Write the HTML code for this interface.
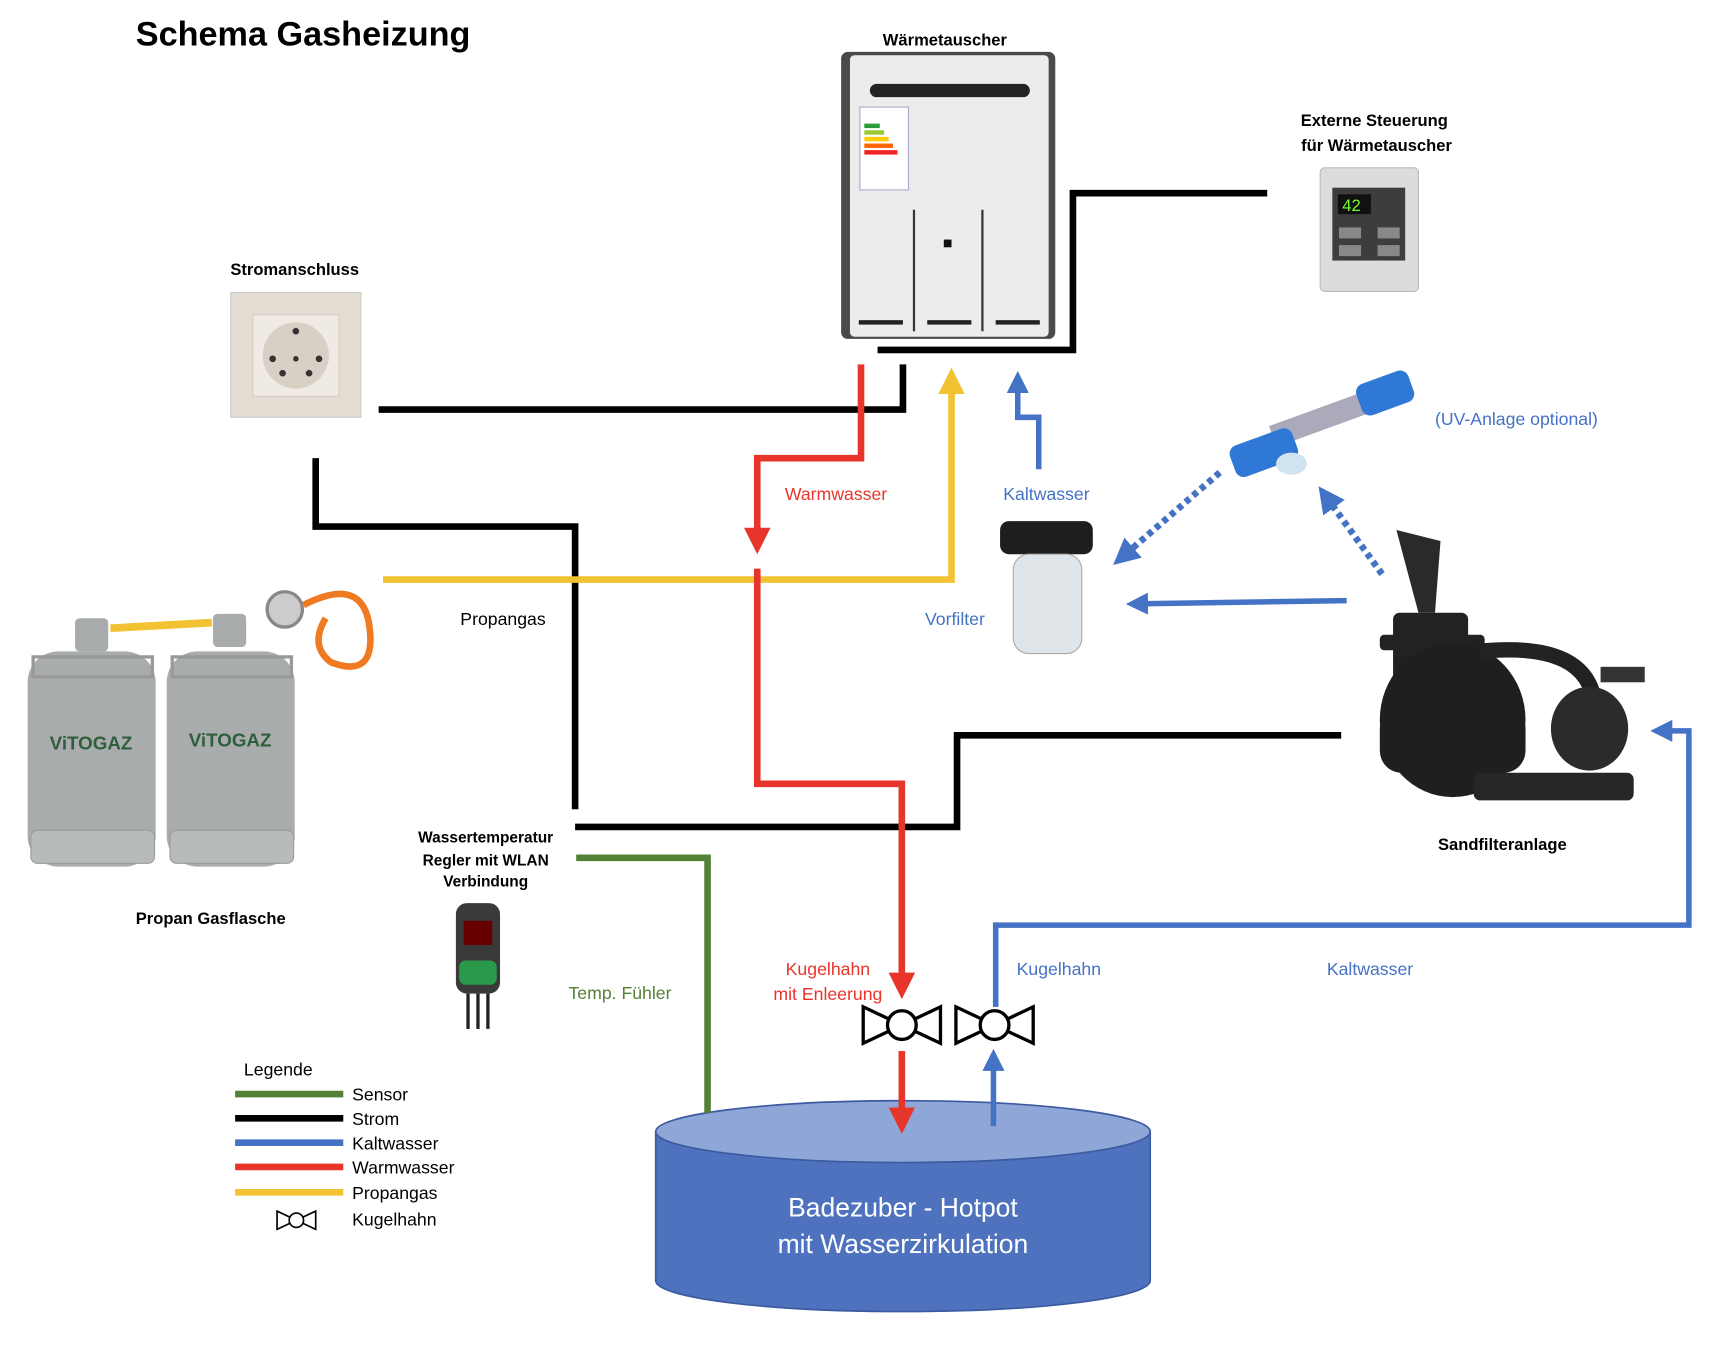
<!DOCTYPE html>
<html><head><meta charset="utf-8"><style>
html,body{margin:0;padding:0;background:#fff;}
svg{display:block;}
text{font-family:"Liberation Sans",sans-serif;}
</style></head><body>
<svg width="1722" height="1348" viewBox="0 0 1560 1221" preserveAspectRatio="none" xmlns="http://www.w3.org/2000/svg">
<defs>
<marker id="ar" markerWidth="4" markerHeight="4" refX="2" refY="2" orient="auto" markerUnits="strokeWidth"><path d="M0,0 L4,2 L0,4z" fill="#e8352b"/></marker>
<marker id="ay" markerWidth="4" markerHeight="4" refX="2" refY="2" orient="auto" markerUnits="strokeWidth"><path d="M0,0 L4,2 L0,4z" fill="#f2c232"/></marker>
<marker id="ab" markerWidth="4" markerHeight="4" refX="2" refY="2" orient="auto" markerUnits="strokeWidth"><path d="M0,0 L4,2 L0,4z" fill="#4472c4"/></marker>
<marker id="ab2" markerWidth="4" markerHeight="4" refX="1" refY="2" orient="auto" markerUnits="strokeWidth"><path d="M0,0 L4,2 L0,4z" fill="#4472c4"/></marker>
<g id="valve"><path d="M0,0 L0,33 L35,16.5z M70,0 L70,33 L35,16.5z" fill="#fff" stroke="#000" stroke-width="3"/><circle cx="35" cy="16.5" r="13" fill="#fff" stroke="#000" stroke-width="3"/></g>
</defs>

<text x="123" y="41" font-size="31" font-weight="bold">Schema Gasheizung</text>

<!-- heater -->
<text x="856" y="41" font-size="15" font-weight="bold" text-anchor="middle">Wärmetauscher</text>
<rect x="762" y="47" width="194" height="260" rx="6" fill="#4a4a4a"/>
<rect x="770" y="50" width="180" height="255" rx="4" fill="#ececec"/>
<rect x="788" y="76" width="145" height="12" rx="6" fill="#222"/>
<rect x="779" y="97" width="44" height="75" fill="#fff" stroke="#aac"/>
<rect x="783" y="112" width="14" height="4" fill="#2a9a3a"/><rect x="783" y="118" width="18" height="4" fill="#9c3"/><rect x="783" y="124" width="22" height="4" fill="#fc0"/><rect x="783" y="130" width="26" height="4" fill="#f60"/><rect x="783" y="136" width="30" height="4" fill="#e22"/>
<rect x="855" y="217" width="7" height="7" fill="#111"/>
<rect x="778" y="290" width="40" height="4" fill="#222"/><rect x="840" y="290" width="40" height="4" fill="#222"/><rect x="902" y="290" width="40" height="4" fill="#222"/>
<line x1="828" y1="190" x2="828" y2="300" stroke="#333" stroke-width="2"/><line x1="890" y1="190" x2="890" y2="300" stroke="#333" stroke-width="2"/>

<!-- external control -->
<text x="1245" y="114" font-size="15" font-weight="bold" text-anchor="middle">Externe Steuerung</text>
<text x="1247" y="137" font-size="15" font-weight="bold" text-anchor="middle">für Wärmetauscher</text>
<rect x="1196" y="152" width="89" height="112" rx="4" fill="#dcdcdc" stroke="#bbb"/>
<rect x="1207" y="170" width="66" height="66" fill="#3d3d3d"/>
<rect x="1212" y="176" width="30" height="18" fill="#111"/>
<text x="1216" y="191" font-size="15" fill="#7f3" font-family="Liberation Mono">42</text>
<rect x="1213" y="206" width="20" height="10" fill="#888"/><rect x="1213" y="222" width="20" height="10" fill="#888"/><rect x="1248" y="206" width="20" height="10" fill="#888"/><rect x="1248" y="222" width="20" height="10" fill="#888"/>

<!-- socket -->
<text x="267" y="249" font-size="15" font-weight="bold" text-anchor="middle">Stromanschluss</text>
<rect x="209" y="265" width="118" height="113" fill="#e2dcd2" stroke="#ccc"/>
<rect x="229" y="285" width="78" height="74" fill="#efebe4" stroke="#d4cec4"/>
<circle cx="268" cy="322" r="30" fill="#d8d0c4"/>
<circle cx="268" cy="300" r="3" fill="#333"/><circle cx="247" cy="325" r="3" fill="#333"/><circle cx="289" cy="325" r="3" fill="#333"/><circle cx="268" cy="325" r="2.5" fill="#333"/><circle cx="256" cy="338" r="3" fill="#333"/><circle cx="280" cy="338" r="3" fill="#333"/>

<!-- tank -->
<path d="M594,1025 L594,1160 A224,28 0 0 0 1042,1160 L1042,1025z" fill="#4f72be" stroke="#3b5aa0" stroke-width="1.5"/>
<ellipse cx="818" cy="1025" rx="224" ry="28" fill="#8fa6d8" stroke="#3b5aa0" stroke-width="1.5"/>
<text x="818" y="1102" font-size="24" fill="#fff" text-anchor="middle">Badezuber - Hotpot</text>
<text x="818" y="1135" font-size="24" fill="#fff" text-anchor="middle">mit Wasserzirkulation</text>

<!-- black lines -->
<g fill="none" stroke="#000" stroke-width="6">
<polyline points="343,371 818,371 818,330"/>
<polyline points="795,317 972,317 972,175 1148,175"/>
<polyline points="286,415 286,477 521,477 521,733"/>
<polyline points="521,749 867,749 867,666 1215,666"/>
</g>

<!-- yellow -->
<polyline points="347,525 862,525 862,345" fill="none" stroke="#f2c232" stroke-width="6" marker-end="url(#ay)"/>
<line x1="100" y1="569" x2="192" y2="564" stroke="#f2c232" stroke-width="7"/>

<!-- red -->
<g fill="none" stroke="#e8352b" stroke-width="6">
<polyline points="780,330 780,415 686,415 686,490" marker-end="url(#ar)"/>
<polyline points="686,515 686,710 817,710 817,893" marker-end="url(#ar)"/>
<polyline points="817,952 817,1015" marker-end="url(#ar)"/>
</g>

<!-- blue -->
<g fill="none" stroke="#4472c4" stroke-width="5">
<polyline points="941,425 941,378 922,378 922,346" marker-end="url(#ab)"/>
<polyline points="1220,544 1030,547" marker-end="url(#ab)"/>
<polyline points="900,1020 900,960" marker-end="url(#ab)"/>
<polyline points="902,912 902,838 1530,838 1530,662 1505,662" marker-end="url(#ab)"/>
<polyline points="1105,428 1022,500" stroke-dasharray="5,4" stroke-width="6" marker-end="url(#ab2)"/>
<polyline points="1252,520 1205,455" stroke-dasharray="5,4" stroke-width="6" marker-end="url(#ab2)"/>
</g>

<!-- green -->
<polyline points="522,777 641,777 641,1008" fill="none" stroke="#538135" stroke-width="6"/>

<!-- UV -->
<rect x="1150" y="370" width="100" height="20" fill="#aab" transform="rotate(-20 1195 379)"/>
<rect x="1115" y="395" width="60" height="30" rx="8" fill="#2f78d6" transform="rotate(-20 1145 410)"/>
<rect x="1230" y="342" width="50" height="30" rx="8" fill="#2f78d6" transform="rotate(-20 1252 357)"/>
<ellipse cx="1170" cy="420" rx="14" ry="10" fill="#cfe3f0"/>
<text x="1300" y="385" font-size="16" fill="#4472c4">(UV-Anlage optional)</text>

<!-- Vorfilter -->
<text x="948" y="453" font-size="16" fill="#4472c4" text-anchor="middle">Kaltwasser</text>
<rect x="906" y="472" width="84" height="30" rx="8" fill="#1e1e1e"/>
<rect x="918" y="502" width="62" height="90" rx="14" fill="#dfe5e8" stroke="#aaa"/>
<text x="838" y="566" font-size="16" fill="#4472c4">Vorfilter</text>

<!-- Sandfilter -->
<rect x="1262" y="555" width="68" height="65" rx="6" fill="#222"/>
<rect x="1250" y="575" width="95" height="14" rx="4" fill="#222"/>
<path d="M1285,555 L1265,480 L1305,490 L1300,555z" fill="#2a2a2a"/>
<ellipse cx="1316" cy="652" rx="66" ry="70" fill="#1f1f1f"/>
<rect x="1250" y="640" width="132" height="60" rx="20" fill="#1f1f1f"/>
<path d="M1340,590 Q1440,580 1445,640" fill="none" stroke="#222" stroke-width="14"/>
<ellipse cx="1440" cy="660" rx="35" ry="38" fill="#2b2b2b"/>
<rect x="1335" y="700" width="145" height="25" rx="6" fill="#262626"/>
<rect x="1450" y="604" width="40" height="14" fill="#333"/>
<text x="1361" y="770" font-size="15" font-weight="bold" text-anchor="middle">Sandfilteranlage</text>

<!-- Gas bottles -->
<g fill="#a9acad">
<rect x="68" y="560" width="30" height="30" rx="4"/><rect x="193" y="556" width="30" height="30" rx="4"/>
<rect x="25" y="590" width="116" height="195" rx="28"/>
<rect x="151" y="590" width="116" height="195" rx="28"/>
</g>
<rect x="30" y="595" width="108" height="18" fill="none" stroke="#999" stroke-width="3"/>
<rect x="156" y="595" width="108" height="18" fill="none" stroke="#999" stroke-width="3"/>
<rect x="28" y="752" width="112" height="30" rx="6" fill="#b8bbbc" stroke="#999"/>
<rect x="154" y="752" width="112" height="30" rx="6" fill="#b8bbbc" stroke="#999"/>
<text x="45" y="679" font-size="17" font-weight="bold" fill="#2e5e3a">ViTOGAZ</text>
<text x="171" y="676" font-size="17" font-weight="bold" fill="#2e5e3a">ViTOGAZ</text>
<circle cx="258" cy="552" r="16" fill="#ccc" stroke="#888" stroke-width="3"/>
<path d="M275,548 Q330,520 335,570 Q340,615 300,600 Q280,585 295,560" fill="none" stroke="#ef7a22" stroke-width="6"/>
<text x="123" y="837" font-size="15" font-weight="bold">Propan Gasflasche</text>
<text x="417" y="566" font-size="16">Propangas</text>

<!-- temp controller -->
<text x="440" y="763" font-size="14" font-weight="bold" text-anchor="middle">Wassertemperatur</text>
<text x="440" y="784" font-size="14" font-weight="bold" text-anchor="middle">Regler mit WLAN</text>
<text x="440" y="803" font-size="14" font-weight="bold" text-anchor="middle">Verbindung</text>
<rect x="413" y="818" width="40" height="82" rx="10" fill="#3a3a3a"/>
<rect x="420" y="834" width="26" height="22" fill="#600"/>
<rect x="416" y="870" width="34" height="22" rx="6" fill="#2a9a4a"/>
<line x1="424" y1="900" x2="424" y2="932" stroke="#222" stroke-width="3"/><line x1="433" y1="900" x2="433" y2="932" stroke="#222" stroke-width="3"/><line x1="442" y1="900" x2="442" y2="932" stroke="#222" stroke-width="3"/>
<text x="515" y="905" font-size="16" fill="#538135">Temp. Fühler</text>

<!-- Labels -->
<text x="711" y="453" font-size="16" fill="#e8352b">Warmwasser</text>
<text x="750" y="883" font-size="16" fill="#e8352b" text-anchor="middle">Kugelhahn</text>
<text x="750" y="906" font-size="16" fill="#e8352b" text-anchor="middle">mit Enleerung</text>
<text x="921" y="883" font-size="16" fill="#4472c4">Kugelhahn</text>
<text x="1202" y="883" font-size="16" fill="#4472c4">Kaltwasser</text>

<!-- valves -->
<use href="#valve" x="782" y="912"/>
<use href="#valve" x="866" y="912"/>

<!-- legend -->
<text x="221" y="974" font-size="16">Legende</text>
<line x1="213" y1="991" x2="311" y2="991" stroke="#538135" stroke-width="6"/>
<line x1="213" y1="1013" x2="311" y2="1013" stroke="#000" stroke-width="6"/>
<line x1="213" y1="1035" x2="311" y2="1035" stroke="#4472c4" stroke-width="6"/>
<line x1="213" y1="1057" x2="311" y2="1057" stroke="#e8352b" stroke-width="6"/>
<line x1="213" y1="1080" x2="311" y2="1080" stroke="#f2c232" stroke-width="6"/>
<g font-size="16">
<text x="319" y="997">Sensor</text><text x="319" y="1019">Strom</text><text x="319" y="1041">Kaltwasser</text><text x="319" y="1063">Warmwasser</text><text x="319" y="1086">Propangas</text><text x="319" y="1110">Kugelhahn</text>
</g>
<use href="#valve" transform="translate(251,1097) scale(0.5)"/>
</svg>
</body></html>
